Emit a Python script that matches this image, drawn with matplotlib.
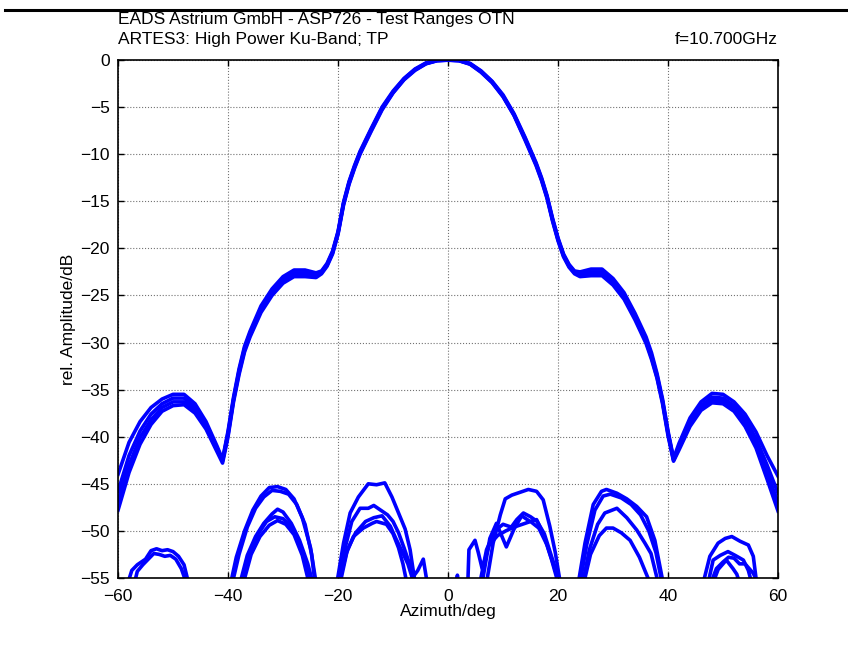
import matplotlib
matplotlib.use("Agg")
import matplotlib.pyplot as plt
from matplotlib.lines import Line2D

plt.rcParams['font.family'] = ['Liberation Sans', 'DejaVu Sans']

# co-polar cuts (several measurements), azimuth in deg, amplitude in dB
az = [-60, -58, -56, -54, -52, -50, -48, -46, -44, -42, -41, -40, -39, -38, -37, -36,
      -34, -32, -30, -28, -26, -24, -23, -22, -21, -20, -19, -18, -17, -16, -14, -12,
      -10, -8, -6, -4, -2, 0, 2, 4, 6, 8, 10, 12, 14, 16, 17, 18, 19, 20, 21, 22, 23,
      24, 26, 28, 30, 32, 34, 36, 37, 38, 39, 40, 41, 42, 44, 46, 48, 50, 52, 54, 56,
      58, 60]

cp1 = [-44.0, -40.6, -38.4, -36.9, -36.0, -35.5, -35.5, -36.5, -38.4, -41.0, -42.4, -39.4,
       -35.8, -32.8, -30.4, -28.8, -26.1, -24.3, -23.0, -22.3, -22.3, -22.6, -22.4, -21.6,
       -20.3, -18.2, -15.1, -12.9, -11.2, -9.7, -7.3, -5.0, -3.3, -1.95, -0.95, -0.3, -0.02,
       0.0,
       -0.02, -0.35, -1.15, -2.25, -3.7, -5.7, -8.2, -10.9, -12.5, -14.4, -16.8, -18.9,
       -20.6, -21.7, -22.4, -22.5, -22.2, -22.2, -23.2, -24.7, -26.9, -29.4, -31.1, -33.3,
       -36.0, -39.4, -42.3, -40.7, -38.0, -36.3, -35.4, -35.5, -36.3, -37.6, -39.5, -42.0,
       -44.2]
cp2 = [-45.8, -42.0, -39.4, -37.6, -36.5, -35.9, -35.9, -36.9, -38.7, -41.2, -42.5, -39.6,
       -36.0, -33.0, -30.6, -29.0, -26.4, -24.6, -23.3, -22.6, -22.6, -22.8, -22.5, -21.7,
       -20.4, -18.3, -15.2, -13.0, -11.3, -9.8, -7.4, -5.1, -3.4, -2.0, -1.0, -0.35, -0.05,
       0.0,
       -0.05, -0.4, -1.2, -2.3, -3.8, -5.8, -8.3, -11.0, -12.6, -14.5, -16.9, -19.0,
       -20.7, -21.8, -22.5, -22.7, -22.5, -22.5, -23.5, -25.0, -27.2, -29.7, -31.4, -33.5,
       -36.2, -39.6, -42.4, -41.0, -38.4, -36.7, -35.8, -35.9, -36.7, -38.1, -40.2, -43.0,
       -46.0]
cp3 = [-46.8, -43.0, -40.1, -38.2, -36.9, -36.3, -36.3, -37.2, -39.0, -41.4, -42.6, -39.8,
       -36.1, -33.2, -30.8, -29.2, -26.6, -24.8, -23.5, -22.8, -22.8, -22.9, -22.6, -21.8,
       -20.5, -18.4, -15.3, -13.1, -11.4, -9.9, -7.5, -5.2, -3.45, -2.05, -1.05, -0.38, -0.06,
       -0.01,
       -0.06, -0.42, -1.25, -2.35, -3.85, -5.85, -8.4, -11.1, -12.7, -14.6, -17.0, -19.1,
       -20.8, -21.9, -22.6, -22.85, -22.7, -22.7, -23.7, -25.2, -27.4, -29.9, -31.6, -33.7,
       -36.3, -39.7, -42.5, -41.2, -38.6, -36.9, -36.1, -36.2, -37.0, -38.5, -40.7, -43.8,
       -47.0]
cp4 = [-47.8, -43.8, -40.8, -38.7, -37.3, -36.7, -36.6, -37.5, -39.2, -41.6, -42.8, -40.0,
       -36.3, -33.4, -31.0, -29.4, -26.8, -25.0, -23.7, -23.0, -23.0, -23.1, -22.7, -21.9,
       -20.6, -18.5, -15.4, -13.2, -11.5, -10.0, -7.6, -5.3, -3.5, -2.1, -1.1, -0.4, -0.08,
       -0.02,
       -0.08, -0.45, -1.3, -2.4, -3.9, -5.9, -8.5, -11.2, -12.8, -14.7, -17.1, -19.2,
       -20.9, -22.0, -22.7, -23.0, -22.9, -22.9, -23.9, -25.4, -27.6, -30.1, -31.8, -33.8,
       -36.5, -39.9, -42.6, -41.4, -38.9, -37.2, -36.4, -36.5, -37.3, -38.9, -41.2, -44.5,
       -47.9]
copol = [cp1, cp2, cp3, cp4]

# low level lobes that show up above the -55 dB floor: (azimuths, values)
lobes = [
    ([-58.2, -57.5, -56.5, -55, -54, -53, -52, -51, -50, -49, -48, -47.2],
     [-55.5, -54.2, -53.6, -53.0, -52.1, -51.9, -52.1, -52.0, -52.2, -52.7, -53.6, -55.5]),
    ([-57, -56.5, -55.5, -54.5, -53.5, -52.5, -51.5, -50.5, -49.5, -48.5, -47.6],
     [-55.5, -54.3, -53.6, -53.0, -52.4, -52.5, -52.7, -52.6, -53.0, -54.0, -55.5]),
    ([-39.5, -38.5, -37, -35.5, -34, -32.5, -31, -29.5, -28, -26.5, -25, -24],
     [-55.5, -52.8, -50.0, -47.8, -46.3, -45.4, -45.3, -45.6, -46.6, -48.6, -51.8, -55.5]),
    ([-39.2, -38, -36.5, -35, -33.5, -32, -30.5, -29, -27.5, -26, -24.8, -24.2],
     [-55.5, -52.5, -49.6, -47.6, -46.4, -45.7, -45.8, -46.1, -47.2, -49.3, -52.5, -55.5]),
    ([-37.8, -36.5, -35, -33.5, -32, -31, -30, -28.5, -27, -25.5, -24.6],
     [-55.5, -52.6, -50.6, -49.2, -48.2, -47.7, -48.0, -49.2, -51.0, -53.5, -55.5]),
    ([-37.5, -36, -34.5, -33, -31.5, -30, -28.5, -27, -25.6, -24.8],
     [-55.5, -52.2, -50.3, -49.0, -48.5, -48.7, -49.6, -51.3, -53.8, -55.5]),
    ([-37.2, -35.8, -34.2, -32.5, -31, -29.5, -28, -26.5, -25.3],
     [-55.5, -52.5, -50.6, -49.4, -48.9, -49.3, -50.4, -52.6, -55.5]),
    ([-20.2, -19, -17.8, -16.3, -14.5, -13, -11.5, -10.2, -9, -7.8, -6.9, -6.0],
     [-55.5, -51.3, -48.1, -46.4, -45.0, -45.1, -44.9, -46.4, -48.1, -49.8, -52.0, -55.5]),
    ([-20, -18.8, -17.5, -16, -14.5, -13.5, -12, -11, -10, -9, -8, -7, -6.2],
     [-55.5, -52.0, -49.0, -47.6, -47.6, -47.3, -47.9, -48.3, -49.0, -50.2, -51.8, -53.5, -55.5]),
    ([-19.8, -18.5, -17.2, -15.4, -13.8, -13, -11.2, -10, -9, -8.2, -7.5],
     [-55.5, -52.4, -50.6, -49.7, -49.2, -49.0, -49.3, -50.3, -51.8, -53.5, -55.5]),
    ([-19.6, -18.3, -16.8, -15, -13.5, -12, -10.5, -9.5, -8.5, -7.3, -6.5, -5.5, -4.5, -3.8],
     [-55.5, -52.0, -50.2, -49.0, -48.6, -48.4, -49.5, -50.8, -52.0, -53.5, -55.0, -54.2, -53.0, -55.5]),
    ([1.5, 1.7, 1.9],
     [-55.5, -54.7, -55.5]),
    ([7.0, 8.2, 9.5, 10.4, 11.6, 13.1, 14.6, 16.1, 17.3, 18.5, 19.5, 20.4],
     [-55.5, -51.3, -48.3, -46.6, -46.2, -45.9, -45.6, -45.8, -46.7, -49.5, -52.3, -55.5]),
    ([5.8, 7.0, 8.5, 10, 11.5, 12.5, 13.7, 15, 16.2, 17.5, 18.7, 19.8, 20.3],
     [-55.5, -52.0, -50.0, -49.3, -49.6, -48.8, -48.1, -48.5, -49.0, -50.3, -52.5, -54.5, -55.5]),
    ([6.2, 7.6, 8.8, 10.6, 12, 13.4, 14.9, 16.1, 17.5, 18.8, 20.0],
     [-55.5, -50.8, -49.2, -51.7, -49.8, -48.4, -49.0, -48.8, -50.6, -53.0, -55.5]),
    ([3.6, 3.8, 4.9, 5.5, 6.2, 7.5, 9, 10.5, 12, 13.5, 15, 16.5, 18, 19.4, 20.2],
     [-55.5, -52.0, -51.0, -52.3, -54.0, -51.5, -50.5, -50.0, -49.6, -49.3, -49.0, -49.7, -51.5, -54.0, -55.5]),
    ([23.7, 24.9, 26.4, 27.9, 28.8, 30.7, 32.5, 34.3, 36.1, 37.6, 39.1],
     [-55.5, -51.3, -47.2, -45.8, -45.6, -46.0, -46.6, -47.4, -48.5, -51.0, -55.5]),
    ([24.0, 25.2, 26.7, 28.2, 29.5, 31.5, 33.3, 35, 36.5, 37.8, 38.9],
     [-55.5, -51.5, -47.8, -46.3, -46.1, -46.5, -47.2, -48.3, -50.0, -52.3, -55.5]),
    ([24.5, 25.7, 27.2, 28.5, 30.7, 32.5, 34.3, 35.8, 36.9, 38.2],
     [-55.5, -52.0, -49.3, -48.1, -47.6, -48.6, -49.9, -51.3, -52.4, -55.5]),
    ([24.7, 25.9, 27.5, 28.8, 30, 31.5, 33.1, 34.8, 36.7],
     [-55.5, -52.5, -50.5, -49.7, -49.7, -50.2, -51.0, -52.8, -55.5]),
    ([46.4, 47.6, 49.1, 50.4, 51.6, 53.1, 54.6, 55.5, 56.1],
     [-55.5, -52.7, -51.3, -50.8, -50.6, -51.1, -51.5, -52.7, -55.5]),
    ([47.3, 48.2, 49.5, 50.9, 52.2, 53.7, 54.6, 55.2],
     [-55.5, -53.1, -52.6, -52.2, -52.6, -53.1, -54.2, -55.5]),
    ([48.2, 49.1, 50.6, 51.8, 52.5, 53.0],
     [-55.5, -54.1, -53.1, -54.0, -54.6, -55.5]),
    ([47.8, 48.8, 50.0, 51.0, 52.0, 53.0, 54.0, 55.5, 56.3],
     [-55.5, -54.0, -53.3, -52.8, -52.9, -53.5, -53.5, -54.5, -55.5]),
]

xticks = [-60, -40, -20, 0, 20, 40, 60]
yticks = [0, -5, -10, -15, -20, -25, -30, -35, -40, -45, -50, -55]

fig = plt.figure(figsize=(8.48, 6.46), dpi=100)
ax = fig.add_axes([0.1392, 0.1053, 0.7783, 0.8018])

for c in copol:
    ax.plot(az, c, color='#0000ff', lw=2.6, solid_joinstyle='round')
for x, y in lobes:
    ax.plot(x, y, color='#0000ff', lw=2.6, solid_joinstyle='round')

ax.set_xlim(-60, 60)
ax.set_ylim(-55, 0)
ax.set_xticks(xticks)
ax.set_yticks(yticks)
ax.grid(True, linestyle=':', color='0.45', lw=0.8)
ax.set_axisbelow(True)
ax.tick_params(direction='in', length=4, width=1, top=True, right=True,
               labelsize=12.5, colors='black')
ax.tick_params(axis='x', pad=8)
ax.tick_params(axis='y', pad=6)
for s in ax.spines.values():
    s.set_linewidth(1.2)

ax.set_xlabel('Azimuth/deg', fontsize=12.5, labelpad=0)
ax.set_ylabel('rel. Amplitude/dB', fontsize=12.5, labelpad=3)

ax.text(0.0, 1.079, 'EADS Astrium GmbH - ASP726 - Test Ranges OTN', transform=ax.transAxes,
        fontsize=12.5, ha='left', va='center')
ax.text(0.0, 1.039, 'ARTES3: High Power Ku-Band; TP', transform=ax.transAxes,
        fontsize=12.5, ha='left', va='center')
ax.text(1.0, 1.039, 'f=10.700GHz', transform=ax.transAxes,
        fontsize=12.5, ha='right', va='center')

# heavy rule across the top of the page
fig.add_artist(Line2D([0.006, 1.0], [0.9845, 0.9845], color='black', lw=2.2,
                      transform=fig.transFigure))

fig.savefig('out.png', dpi=100)
